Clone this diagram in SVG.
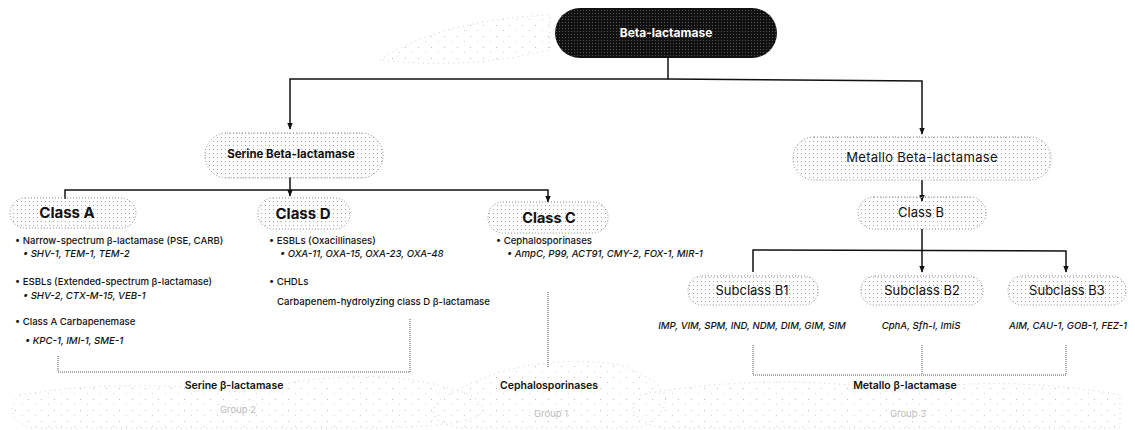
<svg xmlns="http://www.w3.org/2000/svg" width="1135" height="430" viewBox="0 0 1135 430">
<defs>
<pattern id="dots" width="4" height="4" patternUnits="userSpaceOnUse">
<rect x="1" y="1" width="1" height="1" fill="#a8a8a8"/>
</pattern>
<pattern id="dotsDark" width="3" height="3" patternUnits="userSpaceOnUse">
<rect width="3" height="3" fill="#111"/>
<rect x="1" y="1" width="1" height="1" fill="#555"/>
</pattern>
<pattern id="faint" width="13" height="11" patternUnits="userSpaceOnUse">
<rect x="2" y="3" width="1" height="1" fill="#bdbdbd"/>
<rect x="9" y="8" width="1" height="1" fill="#cfcfcf"/>
</pattern>
<marker id="arr" viewBox="0 0 10 10" refX="9" refY="5" markerWidth="7" markerHeight="7" orient="auto" markerUnits="userSpaceOnUse">
<path d="M0,1 L10,5 L0,9 z" fill="#111"/>
</marker>
</defs>
<style>
.pill{fill:url(#dots);stroke:#8a8a8a;stroke-width:1;stroke-dasharray:1 2}
.t{font-family:Inter,"Liberation Sans",sans-serif;fill:#111}
.b{font-weight:700}
.lst{font-family:Inter,"Liberation Sans",sans-serif;font-size:9.6px;font-weight:500;fill:#111}
.it{font-style:italic}
.con{fill:none;stroke:#111;stroke-width:1.5}
.br{fill:none;stroke:#555;stroke-width:1;stroke-dasharray:1 1}
.lbl{font-family:Inter,"Liberation Sans",sans-serif;font-size:10.5px;font-weight:600;fill:#111}
.grp{font-family:Inter,"Liberation Sans",sans-serif;font-size:9.5px;fill:#bbb}
.bg{fill:url(#faint);stroke:#ccc;stroke-width:1;stroke-dasharray:1 4}
</style>

<g id="background">
<path class="bg" d="M20,395 Q120,378 240,392 Q380,360 470,395 Q520,425 380,428 L30,428 Q0,415 20,395 z"/>
<path class="bg" d="M440,400 Q520,350 620,365 Q700,395 640,428 L460,428 Q420,420 440,400 z"/>
<path class="bg" d="M640,395 Q760,372 900,390 Q1010,375 1120,395 L1120,428 L660,428 Q620,415 640,395 z"/>
<path class="bg" d="M380,60 Q440,20 550,15 L550,50 Q470,70 380,60 z"/>
</g>

<g id="connectors">
<polyline class="con" points="668,58 668,79 290,79 290,129" marker-end="url(#arr)"/>
<polyline class="con" points="668,79 922,81 922,134" marker-end="url(#arr)"/>
<polyline class="con" points="290,177 290,196" marker-end="url(#arr)"/>
<polyline class="con" points="65,199 65,190 548,190 548,202" marker-end="url(#arr)"/>
<polyline class="con" points="922,180 922,201" marker-end="url(#arr)"/>
<polyline class="con" points="922,229 922,272" marker-end="url(#arr)"/>
<polyline class="con" points="753,272 753,250 1066,251 1066,272" marker-end="url(#arr)"/>
<polyline class="br" points="58,356 58,372 410,372 410,318"/>
<line class="br" x1="548" y1="292" x2="548" y2="368"/>
<polyline class="br" points="753,345 753,375 1066,375 1066,345"/>
<line class="br" x1="922" y1="345" x2="922" y2="375"/>
</g>

<g id="node-beta-lactamase">
<rect x="555" y="8" width="222" height="50" rx="25" fill="url(#dotsDark)"/>
<text x="666" y="37" text-anchor="middle" class="t b" style="fill:#fff" font-size="12">Beta-lactamase</text>
</g>

<g id="node-serine">
<rect class="pill" x="205" y="133" width="178" height="45" rx="22"/>
<text x="291" y="158" text-anchor="middle" class="t b" font-size="11.5">Serine Beta-lactamase</text>
</g>

<g id="node-metallo">
<rect class="pill" x="793" y="137" width="258" height="43" rx="21"/>
<text x="922" y="162" text-anchor="middle" class="t" font-size="13" letter-spacing="0.3">Metallo Beta-lactamase</text>
</g>

<g id="node-class-a">
<rect class="pill" x="10" y="198" width="126" height="30" rx="15"/>
<text x="67" y="218" text-anchor="middle" class="t b" font-size="15">Class A</text>
</g>

<g id="node-class-d">
<rect class="pill" x="258" y="198" width="92" height="31" rx="15"/>
<text x="303" y="219" text-anchor="middle" class="t b" font-size="15">Class D</text>
</g>

<g id="node-class-c">
<rect class="pill" x="488" y="202" width="120" height="31" rx="15"/>
<text x="549" y="223" text-anchor="middle" class="t b" font-size="14.5">Class C</text>
</g>

<g id="node-class-b">
<rect class="pill" x="858" y="197" width="128" height="32" rx="16"/>
<text x="921" y="217" text-anchor="middle" class="t" font-size="13">Class B</text>
</g>

<g id="node-subclass-b1">
<rect class="pill" x="688" y="276" width="130" height="29" rx="14"/>
<text x="752" y="295" text-anchor="middle" class="t" font-size="13">Subclass B1</text>
</g>

<g id="node-subclass-b2">
<rect class="pill" x="861" y="276" width="122" height="29" rx="14"/>
<text x="922" y="295" text-anchor="middle" class="t" font-size="13">Subclass B2</text>
</g>

<g id="node-subclass-b3">
<rect class="pill" x="1008" y="276" width="118" height="29" rx="14"/>
<text x="1067" y="295" text-anchor="middle" class="t" font-size="13">Subclass B3</text>
</g>

<g id="class-a-list">
<text x="15" y="244" class="lst">• Narrow-spectrum β-lactamase (PSE, CARB)</text>
<text x="23" y="257" class="lst it">• SHV-1, TEM-1, TEM-2</text>
<text x="15" y="285" class="lst">• ESBLs (Extended-spectrum β-lactamase)</text>
<text x="23" y="299" class="lst it">• SHV-2, CTX-M-15, VEB-1</text>
<text x="15" y="325" class="lst">• Class A Carbapenemase</text>
<text x="25" y="344" class="lst it">•  KPC-1, IMI-1, SME-1</text>
</g>

<g id="class-d-list">
<text x="269" y="244" class="lst">• ESBLs (Oxacillinases)</text>
<text x="280" y="257" class="lst it">• OXA-11, OXA-15, OXA-23, OXA-48</text>
<text x="269" y="285" class="lst">• CHDLs</text>
<text x="277" y="305" class="lst">Carbapenem-hydrolyzing class D β-lactamase</text>
</g>

<g id="class-c-list">
<text x="496" y="244" class="lst">• Cephalosporinases</text>
<text x="507" y="257" class="lst it">• AmpC, P99, ACT91, CMY-2, FOX-1, MIR-1</text>
</g>

<g id="subclass-lists">
<text x="752" y="329" text-anchor="middle" class="lst it">IMP, VIM, SPM, IND, NDM, DIM, GIM, SIM</text>
<text x="921" y="329" text-anchor="middle" class="lst it">CphA, Sfh-I, ImiS</text>
<text x="1068" y="329" text-anchor="middle" class="lst it">AIM, CAU-1, GOB-1, FEZ-1</text>
</g>

<g id="group-labels">
<text x="234" y="389" text-anchor="middle" class="lbl">Serine β-lactamase</text>
<text x="549" y="389" text-anchor="middle" class="lbl">Cephalosporinases</text>
<text x="905" y="389" text-anchor="middle" class="lbl">Metallo β-lactamase</text>
<text x="238" y="413" text-anchor="middle" class="grp">Group 2</text>
<text x="551" y="417" text-anchor="middle" class="grp">Group 1</text>
<text x="908" y="417" text-anchor="middle" class="grp">Group 3</text>
</g>
</svg>
